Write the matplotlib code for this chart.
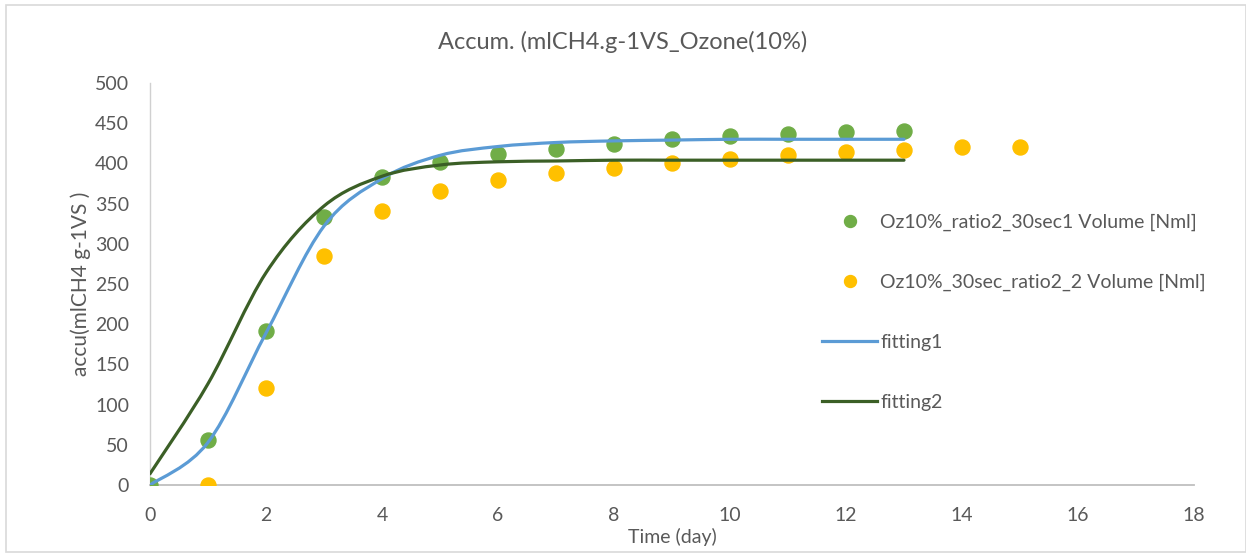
import numpy as np
from matplotlib import pyplot as plt
from matplotlib.path import Path
from matplotlib.patches import PathPatch, Rectangle
from matplotlib.lines import Line2D

plt.rcParams['font.family'] = ['Lato', 'DejaVu Sans']

# measured methane accumulation
days1 = [0, 1, 2, 3, 4, 5, 6, 7, 8, 9, 10, 11, 12, 13]
volume1 = [0, 56, 191, 333, 383, 402, 412, 418, 424, 430, 434, 437, 439, 440]
days2 = [1, 2, 3, 4, 5, 6, 7, 8, 9, 10, 11, 12, 13, 14, 15]
volume2 = [0, 121, 285, 341, 366, 379, 388, 394, 400, 406, 410, 414, 417, 420, 421]

# fitted curves
fit_days = [0, 1, 2, 3, 4, 5, 6, 7, 8, 9, 10, 11, 12, 13]
fitting1 = [0, 53, 189, 322, 381, 410, 421, 426, 428, 429, 430, 430, 430, 430]
fitting2 = [14, 126, 264, 347, 384, 398, 402, 403, 404, 404, 404, 404, 404, 404]

GREEN = '#70AD47'
YELLOW = '#FFC000'
BLUE = '#5B9BD5'
DARK = '#3B5F26'
TXT = '#595959'


def smooth_path(xs, ys):
    # Excel-like smoothed line: Bezier segments with Catmull-Rom controls
    pts = np.column_stack([xs, ys]).astype(float)
    ext = np.vstack([pts[0], pts, pts[-1]])
    verts = [pts[0]]
    codes = [Path.MOVETO]
    for i in range(len(pts) - 1):
        p0, p1, p2, p3 = ext[i], ext[i + 1], ext[i + 2], ext[i + 3]
        verts += [p1 + (p2 - p0) / 6, p2 - (p3 - p1) / 6, p2]
        codes += [Path.CURVE4] * 3
    return Path(verts, codes)


fig = plt.figure(figsize=(12.46, 5.53), dpi=100)
fig.patches.append(Rectangle((6 / 1246, 1 / 553), 1 - 6 / 1246, 547 / 553,
                             transform=fig.transFigure, fill=False,
                             edgecolor='#D9D9D9', lw=1.2))
ax = fig.add_axes([150 / 1246, 68 / 553, 1044 / 1246, 402 / 553])

ax.plot(days1, volume1, 'o', color=GREEN, ms=10.8, zorder=3)
ax.plot(days2, volume2, 'o', color=YELLOW, ms=10.8, zorder=3)
for ys, col in ((fitting1, BLUE), (fitting2, DARK)):
    ax.add_patch(PathPatch(smooth_path(fit_days, ys), fill=False, edgecolor=col,
                           lw=2.3, capstyle='round', zorder=4))

ax.set_xlim(0, 18)
ax.set_ylim(0, 500)
ax.set_xticks(range(0, 19, 2))
ax.set_yticks(range(0, 501, 50))
ax.tick_params(length=0, labelsize=14, labelcolor=TXT)
ax.tick_params(axis='x', pad=16)
ax.tick_params(axis='y', pad=15)
for side in ('top', 'right'):
    ax.spines[side].set_visible(False)
ax.spines['bottom'].set_color('#BFBFBF')
ax.spines['bottom'].set_linewidth(1.3)
ax.spines['left'].set_linewidth(1.0)
ax.spines['left'].set_color('#D0D0D0')

ax.set_xlabel('Time (day)', fontsize=14, color=TXT, labelpad=3)
ax.set_ylabel('accu(mlCH4 g-1VS )', fontsize=15, color=TXT, labelpad=3)
fig.text(0.5, 1 - 42 / 553, 'Accum. (mlCH4.g-1VS_Ozone(10%)', ha='center', va='center',
         fontsize=17, color=TXT)

handles = [
    Line2D([], [], ls='none', marker='o', color=GREEN, ms=8.6),
    Line2D([], [], ls='none', marker='o', color=YELLOW, ms=8.6),
    Line2D([], [], color=BLUE, lw=2.3),
    Line2D([], [], color=DARK, lw=2.3),
]
labels = ['Oz10%_ratio2_30sec1 Volume [Nml]', 'Oz10%_30sec_ratio2_2 Volume [Nml]',
          'fitting1', 'fitting2']
ax.legend(handles, labels, loc='upper left', bbox_to_anchor=(822 / 1246, 1 - 214 / 553),
          bbox_transform=fig.transFigure, frameon=False, fontsize=14,
          labelcolor=TXT, handlelength=2.83, handletextpad=0.16,
          labelspacing=2.2, borderaxespad=0, borderpad=0)

fig.savefig('out.png', dpi=100, facecolor='white')
